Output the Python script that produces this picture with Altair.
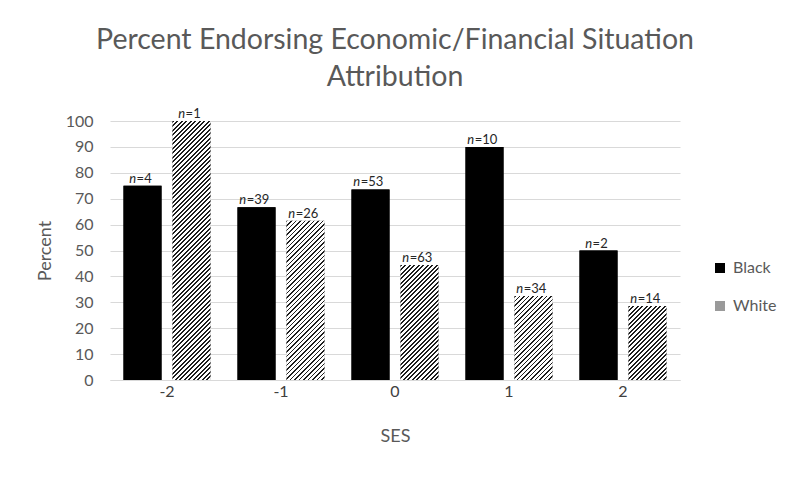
import altair as alt
import pandas as pd

# ---- data ----
ses = ["-2", "-1", "0", "1", "2"]
black_pct = [75.0, 66.7, 73.6, 90.0, 50.0]
white_pct = [100.0, 61.5, 44.4, 32.4, 28.6]
black_n = [4, 39, 53, 10, 2]
white_n = [1, 26, 63, 34, 14]

# ---- layout constants ----
W, H = 570, 259
BAR_W = 38.0
FONT = "Lato"
GRAY = "#595959"


def hatch(value):
    """Diagonal '/' hatch as a sharp-stop linear gradient sized to the bar."""
    h = max(value / 100.0 * H, 1.0)
    w = BAR_W
    D = (w * w + h * h) / w        # x+y distance at gradient t=1
    tmax = (w + h) / D
    P = 4.5                        # hatch period (px, horizontal)
    f = 0.38                       # dark fraction
    p = P / D
    stops = []
    k = 0
    while k * p <= tmax + p and k * p < 1:
        t0 = k * p
        t1 = min(t0 + f * p, 1.0)
        t2 = min(t0 + p, 1.0)
        stops += [
            {"offset": round(t0, 6), "color": "#1e1e1e"},
            {"offset": round(t1, 6), "color": "#1e1e1e"},
            {"offset": round(t1, 6), "color": "#ffffff"},
            {"offset": round(t2, 6), "color": "#ffffff"},
        ]
        k += 1
    return {"gradient": "linear", "x1": 0, "y1": 0, "x2": 1, "y2": round(h / w, 6),
            "stops": stops}


rows = []
for i, s in enumerate(ses):
    rows.append({"SES": s, "Race": "Black", "Percent": black_pct[i],
                 "nstr": str(black_n[i]), "eq": "=" + str(black_n[i]), "fillv": "#000000"})
    rows.append({"SES": s, "Race": "White", "Percent": white_pct[i],
                 "nstr": str(white_n[i]), "eq": "=" + str(white_n[i]), "fillv": hatch(white_pct[i])})
df = pd.DataFrame(rows)

x_enc = alt.X("SES:N", sort=ses,
              scale=alt.Scale(paddingInner=0.237, paddingOuter=0.1185),
              axis=alt.Axis(title="SES", labelAngle=0, ticks=False, domain=True,
                            domainColor="#d9d9d9", labelFontSize=16, labelColor="#404040",
                            labelFont=FONT, labelPadding=3, titleFont=FONT,
                            titleFontSize=18, titleFontWeight="normal", titleColor=GRAY,
                            titlePadding=28))
xo_enc = alt.XOffset("Race:N", sort=["Black", "White"],
                     scale=alt.Scale(paddingInner=0.224, paddingOuter=0))
y_enc = alt.Y("Percent:Q", scale=alt.Scale(domain=[0, 100], nice=False),
              axis=alt.Axis(values=list(range(0, 101, 10)), title="Percent", ticks=False,
                            domain=False, grid=True, gridColor="#d9d9d9", labelFont=FONT,
                            labelFontSize=16, labelColor=GRAY, labelPadding=17,
                            titleFont=FONT, titleFontSize=18, titleFontWeight="normal",
                            titleColor=GRAY, titlePadding=11))

base = alt.Chart(df).encode(x=x_enc, xOffset=xo_enc, y=y_enc)

legend_bars = base.mark_bar().encode(
    color=alt.Color("Race:N", sort=["Black", "White"],
                    scale=alt.Scale(domain=["Black", "White"], range=["#000000", "#9a9a9a"]),
                    legend=alt.Legend(title=None, orient="none", legendX=602, legendY=139,
                                      symbolType="square", symbolSize=100,
                                      symbolStrokeWidth=0, labelFont=FONT, labelFontSize=16,
                                      labelColor=GRAY, rowPadding=22, labelOffset=5))
)

hatch_bars = base.mark_bar().encode(fill=alt.Fill("fillv:N", scale=None))

n_text = base.mark_text(align="right", baseline="alphabetic", dy=-3, font=FONT,
                        fontSize=13, fontStyle="italic", color="#262626",
                        dx={"expr": "-2.5 - 3.9*length(datum.nstr)"}).encode(
    text=alt.value("n"))
eq_text = base.mark_text(align="left", baseline="alphabetic", dy=-3, font=FONT,
                         fontSize=13, color="#262626",
                         dx={"expr": "-2 - 3.9*length(datum.nstr)"}).encode(
    text="eq:N")

chart = alt.layer(legend_bars, hatch_bars, n_text, eq_text).properties(
    width=W, height=H,
    background="white",
    autosize=alt.AutoSizeParams(type="none"),
    padding={"left": 102, "top": 113, "right": 112, "bottom": 91},
    title=alt.TitleParams(
        text=["Percent Endorsing Economic/Financial Situation", "Attribution"],
        font=FONT, fontSize=28.5, fontWeight="normal", color=GRAY, anchor="middle",
        baseline="alphabetic", lineHeight=37, offset=-6),
).configure_view(stroke=None)

chart.save("out.html", embed_options={"renderer": "svg", "actions": False})
